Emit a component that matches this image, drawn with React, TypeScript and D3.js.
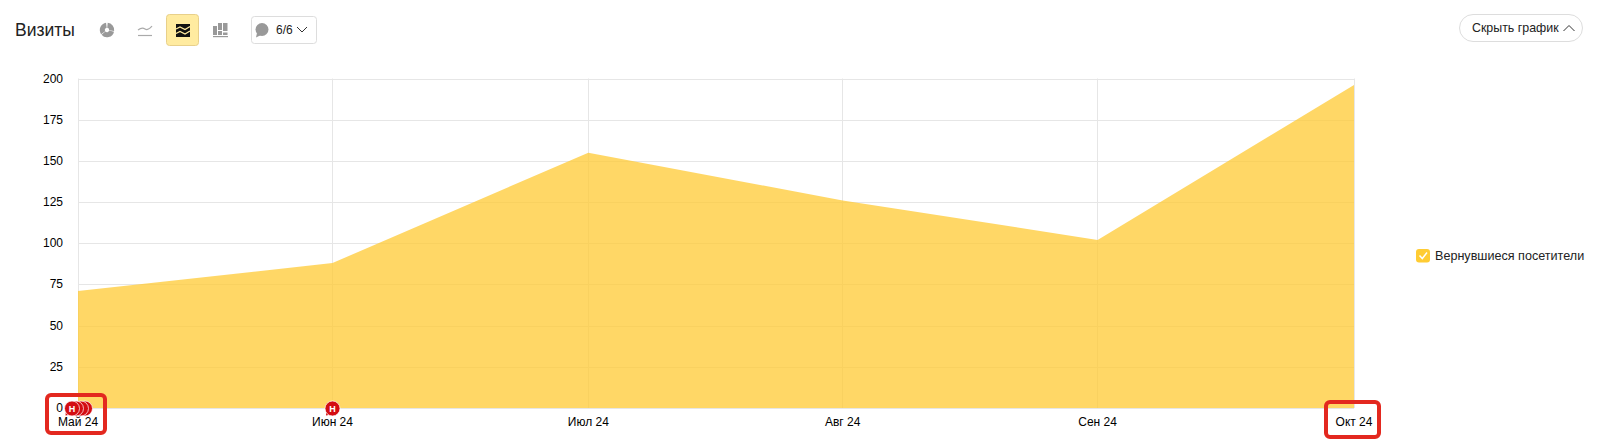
import React, { useEffect, useRef } from "react";
import * as d3 from "d3";

const months = ["Май 24", "Июн 24", "Июл 24", "Авг 24", "Сен 24", "Окт 24"];
const visits = [71, 88, 155, 126, 102, 196];
const yTicks = [0, 25, 50, 75, 100, 125, 150, 175, 200];
const seriesName = "Вернувшиеся посетители";
const title = "Визиты";
const hideLabel = "Скрыть график";
const noteLabel = "6/6";
const noteMonths = [0, 0, 0, 0, 1];
const noteOffsets = [13, 9, 4, 0, 0];

const FONT = "'Liberation Sans', Arial, sans-serif";

function Header() {
  const gray = "#999";
  const arc = d3.arc();
  return (
    <g>
      <text x={15} y={36} fontSize={17.5} fill="#222">{title}</text>
      {/* pie icon */}
      <g transform="translate(107,30)">
        <path d={arc({ innerRadius: 2.2, outerRadius: 7.2, startAngle: 0.1, endAngle: 1.7 })!} fill={gray} />
        <path d={arc({ innerRadius: 2.2, outerRadius: 7.2, startAngle: 1.8, endAngle: 4.0 })!} fill={gray} />
        <path d={arc({ innerRadius: 2.2, outerRadius: 7.2, startAngle: 4.1, endAngle: 6.15 })!} fill={gray} />
      </g>
      {/* line icon */}
      <g fill="none" stroke="#aaa" strokeWidth={1.2}>
        <path d="M138,30 Q142,27 145,29 T152,26" />
        <path d="M138,35.5 H152" />
      </g>
      {/* active stacked icon */}
      <rect x={166.5} y={14.5} width={32} height={31} rx={3} fill="#ffeba0" stroke="#e8d08a" />
      <rect x={176} y={24} width={14} height={13} fill="#111" />
      <g fill="none" stroke="#ffeba0" strokeWidth={1.3}>
        <path d="M176,29 L180,27 L185,29.5 L190,26.5" />
        <path d="M176,33.5 L180,31.5 L185,34 L190,31" />
      </g>
      {/* bars icon */}
      <g fill={gray}>
        <rect x={213} y={26} width={4} height={9} />
        <rect x={218} y={23} width={4} height={7} />
        <rect x={218} y={31} width={4} height={4} />
        <rect x={223} y={23} width={4.5} height={8} />
        <rect x={223} y={32.5} width={4.5} height={2.5} />
        <rect x={213} y={36} width={15} height={1.2} />
      </g>
      {/* notes dropdown */}
      <rect x={251.5} y={16.5} width={65} height={27} rx={3} fill="#fff" stroke="#ddd" />
      <circle cx={262} cy={29.5} r={6.5} fill={gray} />
      <path d="M257,33 L256,37.5 L261,35 Z" fill={gray} />
      <text x={276} y={34} fontSize={12} fill="#222">{noteLabel}</text>
      <path d="M297,27 L302,32 L307,27" fill="none" stroke="#333" strokeWidth={1} />
      {/* hide button */}
      <rect x={1459.5} y={14.5} width={123} height={27} rx={13.5} fill="#fff" stroke="#ddd" />
      <text x={1472} y={32} fontSize={12.4} fill="#222">{hideLabel}</text>
      <path d="M1563.5,31 L1569,25.5 L1574.5,31" fill="none" stroke="#333" strokeWidth={1} />
      {/* legend */}
      <rect x={1416} y={249} width={14} height={13.5} rx={3} fill="#ffcc33" />
      <path d="M1419.5,255.5 L1422.3,258.5 L1427,252.5" fill="none" stroke="#fff" strokeWidth={1.5} />
      <text x={1435} y={260} fontSize={12.6} fill="#222">{seriesName}</text>
    </g>
  );
}

export default function App() {
  const ref = useRef<SVGGElement | null>(null);

  useEffect(() => {
    const svg = d3.select(ref.current!);
    svg.selectAll("*").remove();

    const x = d3.scaleOrdinal<string, number>().domain(months).range([78, 332.5, 588.3, 842.7, 1097.6, 1354]);
    const y = d3.scaleLinear().domain([0, 200]).range([408, 78.5]);

    const gy = svg.append("g");
    yTicks.forEach((t) => {
      gy.append("line").attr("x1", 78).attr("x2", 1354)
        .attr("y1", Math.round(y(t)) + 0.5).attr("y2", Math.round(y(t)) + 0.5)
        .attr("stroke", "#e6e6e6");
      gy.append("text").attr("x", 63).attr("y", y(t) + 4)
        .attr("text-anchor", "end").attr("font-size", 12).attr("fill", "#000").text(t);
    });
    months.forEach((m) => {
      const gx = Math.floor(x(m)) + 0.5;
      gy.append("line").attr("x1", gx).attr("x2", gx)
        .attr("y1", 78.5).attr("y2", 408).attr("stroke", "#e6e6e6");
    });

    const area = d3.area<number>()
      .x((_, i) => x(months[i]))
      .y0(y(0))
      .y1((d) => y(d));
    svg.append("path").attr("d", area(visits)!).attr("fill", "#ffca33").attr("fill-opacity", 0.75);

    months.forEach((m) => {
      svg.append("text").attr("x", x(m)).attr("y", 426)
        .attr("text-anchor", "middle").attr("font-size", 12).attr("fill", "#000").text(m);
    });

    const marker = (cx: number) => {
      const cy = 408.5;
      const g = svg.append("g");
      g.append("path").attr("d", `M${cx - 6},${cy + 2}L${cx - 6.5},${cy + 7}L${cx - 1},${cy + 6}Z`).attr("fill", "#d40d12");
      g.append("circle").attr("cx", cx).attr("cy", cy).attr("r", 7.5)
        .attr("fill", "#d40d12").attr("stroke", "#fff").attr("stroke-width", 0.7);
    };
    noteMonths.forEach((mi, i) => marker(x(months[mi]) + (mi === 0 ? -6 : 0) + noteOffsets[i]));
    [x(months[0]) - 6, x(months[1])].forEach((cx) => {
      svg.append("text").attr("x", cx).attr("y", 411.5).attr("text-anchor", "middle")
        .attr("font-size", 9).attr("font-weight", 700).attr("fill", "#fff").text("Н");
    });

    const boxes = [
      { x0: 47, x1: 105, y0: 395, y1: 433 },
      { x0: 1326, x1: 1379, y0: 402, y1: 437 },
    ];
    boxes.forEach((b) => {
      svg.append("rect").attr("x", b.x0).attr("y", b.y0).attr("width", b.x1 - b.x0).attr("height", b.y1 - b.y0)
        .attr("rx", 4).attr("fill", "none").attr("stroke", "#e3281f").attr("stroke-width", 4);
    });
  }, []);

  return (
    <svg width={1600} height={445} style={{ position: "fixed", left: 0, top: 0, background: "#fff", fontFamily: FONT }}>
      <Header />
      <g ref={ref} />
    </svg>
  );
}
